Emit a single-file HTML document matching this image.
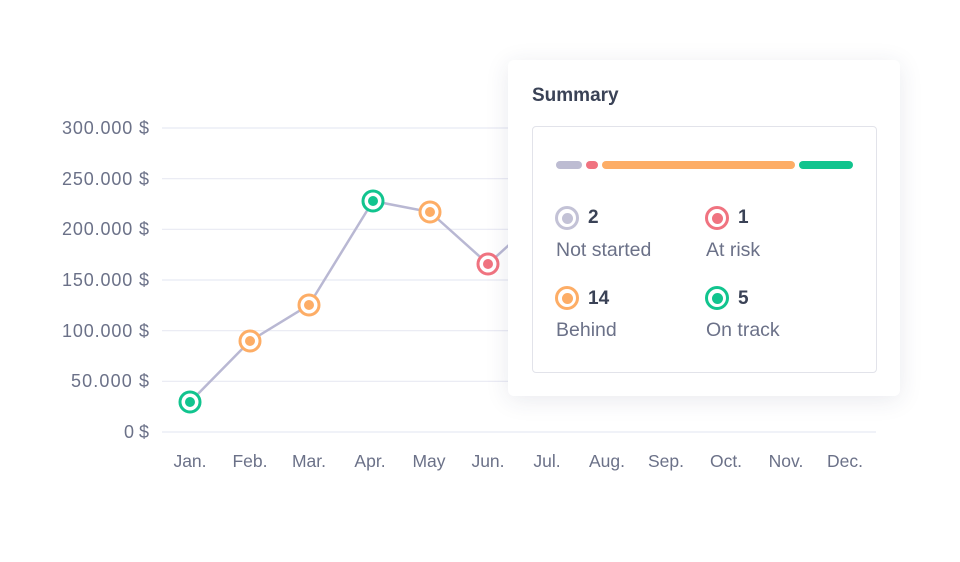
<!DOCTYPE html>
<html><head><style>
body{margin:0;width:960px;height:562px;background:#fff;font-family:"Liberation Sans",sans-serif;overflow:hidden;position:relative}
.card{position:absolute;left:508px;top:60px;width:392px;height:336px;background:#fff;border-radius:6px;box-shadow:0 4px 24px rgba(40,50,90,0.10)}
.t{position:absolute;color:#3a4256;font-weight:bold;font-size:19px}
.l{position:absolute;color:#6b7188;font-size:19.5px}
.ico{position:absolute;width:18px;height:18px;border-radius:50%;border:3px solid;background:#fff}
.ico i{position:absolute;left:3.5px;top:3.5px;width:11px;height:11px;border-radius:50%}
.bar{position:absolute;top:161px;height:8px;border-radius:4px}
</style></head><body>
<svg width="960" height="562" style="position:absolute;left:0;top:0" font-family="Liberation Sans, sans-serif">
<g stroke="#e8e9f3" stroke-width="1.2">
<line x1="162" x2="876" y1="128" y2="128"/><line x1="162" x2="876" y1="178.7" y2="178.7"/><line x1="162" x2="876" y1="229.3" y2="229.3"/><line x1="162" x2="876" y1="280" y2="280"/><line x1="162" x2="876" y1="330.7" y2="330.7"/><line x1="162" x2="876" y1="381.3" y2="381.3"/><line x1="162" x2="876" y1="432" y2="432"/>
</g>
<g fill="#6b7188" font-size="18" text-anchor="end" textLength="87">
<text x="149" y="134" textLength="87">300.000 $</text><text x="149" y="185" textLength="87">250.000 $</text><text x="149" y="235" textLength="87">200.000 $</text><text x="149" y="286" textLength="87">150.000 $</text><text x="149" y="337" textLength="87">100.000 $</text><text x="149" y="387" textLength="78">50.000 $</text><text x="149" y="438">0 $</text>
</g>
<g fill="#6b7188" font-size="17.5" text-anchor="middle">
<text x="190" y="467">Jan.</text><text x="250" y="467">Feb.</text><text x="309" y="467">Mar.</text><text x="370" y="467">Apr.</text><text x="429" y="467">May</text><text x="488" y="467">Jun.</text><text x="547" y="467">Jul.</text><text x="607" y="467">Aug.</text><text x="666" y="467">Sep.</text><text x="726" y="467">Oct.</text><text x="786" y="467">Nov.</text><text x="845" y="467">Dec.</text>
</g>
<polyline points="190,402 250,341 309,305 373,201 430,212 488,264 520,235" fill="none" stroke="#b9b8d3" stroke-width="2.5"/>
<g stroke-width="3" fill="#fff">
<circle cx="190" cy="402" r="10" stroke="#11c48e"/><circle cx="250" cy="341" r="10" stroke="#fdad66"/><circle cx="309" cy="305" r="10" stroke="#fdad66"/><circle cx="373" cy="201" r="10" stroke="#11c48e"/><circle cx="430" cy="212" r="10" stroke="#fdad66"/><circle cx="488" cy="264" r="10" stroke="#f07380"/>
</g>
<circle cx="190" cy="402" r="5" fill="#11c48e"/><circle cx="250" cy="341" r="5" fill="#fdad66"/><circle cx="309" cy="305" r="5" fill="#fdad66"/><circle cx="373" cy="201" r="5" fill="#11c48e"/><circle cx="430" cy="212" r="5" fill="#fdad66"/><circle cx="488" cy="264" r="5" fill="#f07380"/>
</svg>
<div class="card"></div>
<div class="t" style="left:532px;top:85px">Summary</div>
<div style="position:absolute;left:532px;top:126px;width:343px;height:245px;border:1px solid #e2e3ea;border-radius:4px;background:#fff"></div>
<div class="bar" style="left:556px;width:26px;background:#bdbcd2"></div>
<div class="bar" style="left:586px;width:12px;background:#f07380"></div>
<div class="bar" style="left:602px;width:193px;background:#fdad66"></div>
<div class="bar" style="left:799px;width:54px;background:#11c48e"></div>
<div class="ico" style="left:555px;top:206px;border-color:#c3c2d6"><i style="background:#c3c2d6"></i></div>
<div class="t" style="left:588px;top:207px">2</div>
<div class="l" style="left:556px;top:239px">Not started</div>
<div class="ico" style="left:705px;top:206px;border-color:#f07380"><i style="background:#f07380"></i></div>
<div class="t" style="left:738px;top:207px">1</div>
<div class="l" style="left:706px;top:239px">At risk</div>
<div class="ico" style="left:555px;top:286px;border-color:#fdad66"><i style="background:#fdad66"></i></div>
<div class="t" style="left:588px;top:288px">14</div>
<div class="l" style="left:556px;top:319px">Behind</div>
<div class="ico" style="left:705px;top:286px;border-color:#11c48e"><i style="background:#11c48e"></i></div>
<div class="t" style="left:738px;top:288px">5</div>
<div class="l" style="left:706px;top:319px">On track</div>
</body></html>
